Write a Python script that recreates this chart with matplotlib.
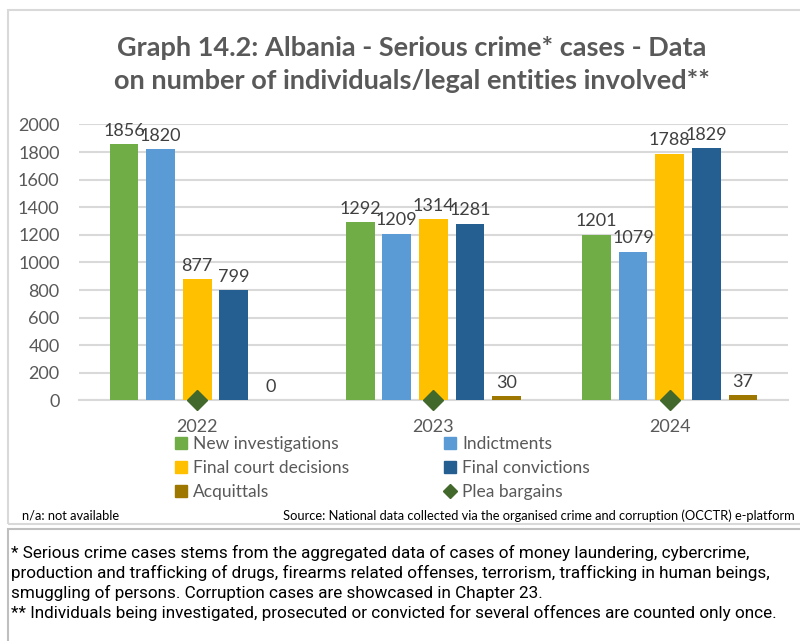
import matplotlib.pyplot as plt
from matplotlib.lines import Line2D
from matplotlib.patches import Rectangle

# ======================
# Data
# ======================
years = ["2022", "2023", "2024"]

new_investigations = [1856, 1292, 1201]
indictments = [1820, 1209, 1079]
final_court_decisions = [877, 1314, 1788]
final_convictions = [799, 1281, 1829]
acquittals = [0, 30, 37]
plea_bargains = [0, 0, 0]

series_names = ["New investigations", "Indictments", "Final court decisions",
                "Final convictions", "Acquittals"]
series_values = [new_investigations, indictments, final_court_decisions,
                 final_convictions, acquittals]
series_colors = ["#70AD47", "#5B9BD5", "#FFC000", "#255E91", "#9E7700"]
plea_color = "#43682B"

yticks = list(range(0, 2001, 200))

# ======================
# Plot
# ======================
plt.rcParams['font.family'] = ['Lato', 'DejaVu Sans']

fig = plt.figure(figsize=(8, 6.41), dpi=100)
ax = fig.add_axes([0.0988, 0.3752, 0.886, 0.4306])

x = range(len(years))
slot = 0.155
width = 0.122

for i, (name, vals, col) in enumerate(zip(series_names, series_values, series_colors)):
    pos = [xi + (i - 2) * slot for xi in x]
    ax.bar(pos, vals, width=width, color=col, label=name, zorder=3)
    for p, v in zip(pos, vals):
        ax.annotate(str(v), (p, v), xytext=(0, 4), textcoords="offset points",
                    ha="center", va="bottom", fontsize=13, color="#404040",
                    annotation_clip=False)

ax.plot(list(x), plea_bargains, linestyle="none", marker="D", markersize=10,
        color=plea_color, zorder=5, clip_on=False, label="Plea bargains")

ax.set_xlim(-0.5, 2.5)
ax.set_ylim(0, 2000)
ax.set_yticks(yticks)
ax.set_xticks(list(x))
ax.set_xticklabels(years)
ax.tick_params(axis="both", length=0, labelsize=13, labelcolor="#595959")
ax.tick_params(axis="x", pad=13)
ax.tick_params(axis="y", pad=14)
ax.grid(axis="y", color="#D9D9D9", linewidth=1.5, zorder=0)
for s in ["top", "right", "left"]:
    ax.spines[s].set_visible(False)
ax.spines["bottom"].set_color("#D9D9D9")
ax.spines["bottom"].set_linewidth(1.5)

# legend, row-major order in two columns
def sq(c):
    return Line2D([], [], linestyle="none", marker="s", markersize=8, color=c)

handles = [sq(series_colors[0]), sq(series_colors[2]), sq(series_colors[4]),
           sq(series_colors[1]), sq(series_colors[3]),
           Line2D([], [], linestyle="none", marker="D", markersize=7, color=plea_color)]
labels = ["New investigations", "Final court decisions", "Acquittals",
          "Indictments", "Final convictions", "Plea bargains"]
fig.legend(handles, labels, ncol=2, loc="upper left",
           bbox_to_anchor=(0.22, 1 - 436 / 641), frameon=False,
           fontsize=12.5, labelcolor="#595959", handlelength=0.6,
           handletextpad=0.4, columnspacing=5.5, labelspacing=0.45,
           borderpad=0, borderaxespad=0)

fig.text(0.515, 1 - 48 / 641, "Graph 14.2: Albania - Serious crime* cases - Data",
         ha="center", va="center", fontsize=19.5, fontweight="bold", color="#595959")
fig.text(0.515, 1 - 81 / 641, "on number of individuals/legal entities involved**",
         ha="center", va="center", fontsize=19.5, fontweight="bold", color="#595959")

fig.text(22 / 800, 1 - 516 / 641, "n/a: not available", ha="left", va="center",
         fontsize=9.3, color="#000000")
fig.text(795 / 800, 1 - 516 / 641,
         "Source: National data collected via the organised crime and corruption (OCCTR) e-platform",
         ha="right", va="center", fontsize=9.3, color="#000000")

# boxes
fig.add_artist(Rectangle((8 / 800, 1 - 524 / 641), 1.0, (524 - 10) / 641,
                         transform=fig.transFigure, fill=False,
                         edgecolor="#D9D9D9", linewidth=1.5))
fig.add_artist(Rectangle((8 / 800, -0.05), 1.0, 0.05 + (641 - 529) / 641,
                         transform=fig.transFigure, fill=False,
                         edgecolor="#BFBFBF", linewidth=1.5))

notes = [
    "* Serious crime cases stems from the aggregated data of cases of money laundering, cybercrime,",
    "production and trafficking of drugs, firearms related offenses, terrorism, trafficking in human beings,",
    "smuggling of persons. Corruption cases are showcased in Chapter 23.",
    "** Individuals being investigated, prosecuted or convicted for several offences are counted only once.",
]
for k, line in enumerate(notes):
    fig.text(11 / 800, 1 - (553 + 20 * k) / 641, line, ha="left", va="center",
             fontsize=12.3, color="#000000", family=["Roboto", "DejaVu Sans"])

fig.savefig("out.png", dpi=100)
